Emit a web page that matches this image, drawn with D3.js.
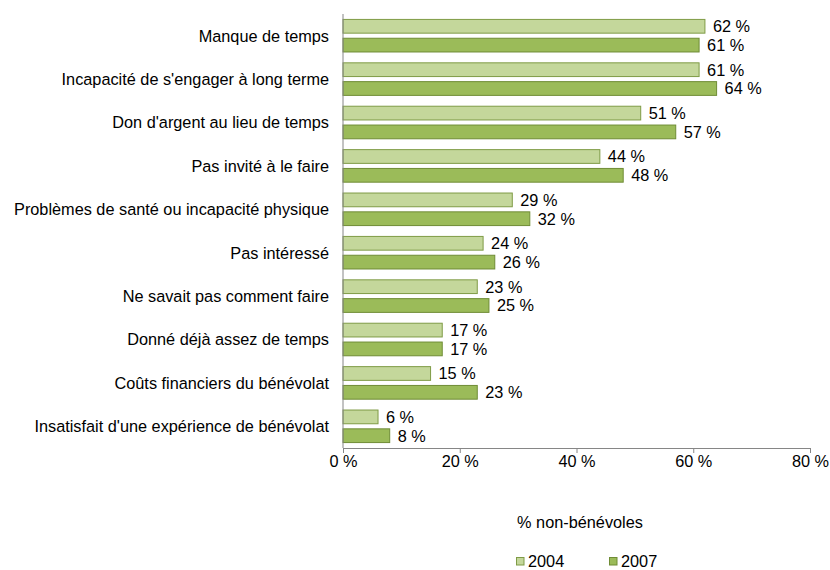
<!DOCTYPE html>
<html>
<head>
<meta charset="utf-8">
<script src="https://cdn.jsdelivr.net/npm/d3@7/dist/d3.min.js"></script>
<style>
  body { margin: 0; background: #fff; }
  svg { display: block; font-family: "Liberation Sans", Arial, sans-serif; }
</style>
</head>
<body>
<svg id="chart" width="830" height="570"></svg>
<script>
// Reasons given for not volunteering, share of non-volunteers
const categories = [
  "Manque de temps",
  "Incapacité de s'engager à long terme",
  "Don d'argent au lieu de temps",
  "Pas invité à le faire",
  "Problèmes de santé ou incapacité physique",
  "Pas intéressé",
  "Ne savait pas comment faire",
  "Donné déjà assez de temps",
  "Coûts financiers du bénévolat",
  "Insatisfait d'une expérience de bénévolat"
];
const series = ["2004", "2007"];
const values2004 = [62, 61, 51, 44, 29, 24, 23, 17, 15, 6];
const values2007 = [61, 64, 57, 48, 32, 26, 25, 17, 23, 8];
const xTicks = [0, 20, 40, 60, 80];
const xTitle = "% non-bénévoles";

const fills = { "2004": "#c4d79b", "2007": "#9bbb59" };
const strokes = { "2004": "#7f9b46", "2007": "#6f8c35" };
const fontSize = 16.3;

const svg = d3.select("#chart");
const plotLeft = 343, plotRight = 810, plotTop = 14, plotBottom = 448;

const x = d3.scaleLinear().domain([0, 80]).range([plotLeft, plotRight]);
const y = d3.scaleBand().domain(categories).range([plotTop, plotBottom]).paddingInner(0.25).paddingOuter(0.125);
const ySub = d3.scaleBand().domain(series).range([0, y.bandwidth()]).paddingInner(0.27);

const rows = categories.map((c, i) => ({ cat: c, vals: [
  { s: "2004", v: values2004[i] },
  { s: "2007", v: values2007[i] }
]}));

const g = svg.append("g");
const grp = g.selectAll("g.grp").data(rows).join("g")
  .attr("transform", d => `translate(0,${y(d.cat)})`);

grp.selectAll("rect").data(d => d.vals).join("rect")
  .attr("x", x(0))
  .attr("y", d => ySub(d.s))
  .attr("width", d => x(d.v) - x(0))
  .attr("height", ySub.bandwidth())
  .attr("fill", d => fills[d.s])
  .attr("stroke", d => strokes[d.s])
  .attr("stroke-width", 1);

grp.selectAll("text.val").data(d => d.vals).join("text")
  .attr("class", "val")
  .attr("x", d => x(d.v) + 8)
  .attr("y", d => ySub(d.s) + ySub.bandwidth() / 2)
  .attr("dy", "0.36em")
  .attr("font-size", fontSize)
  .attr("fill", "#000")
  .text(d => d.v + " %");

// Category labels
g.selectAll("text.cat").data(categories).join("text")
  .attr("class", "cat")
  .attr("x", 329)
  .attr("y", d => y(d) + y.bandwidth() / 2)
  .attr("dy", "0.36em")
  .attr("text-anchor", "end")
  .attr("font-size", fontSize)
  .text(d => d);

// Vertical axis line
svg.append("line")
  .attr("x1", plotLeft).attr("x2", plotLeft)
  .attr("y1", plotTop).attr("y2", plotBottom)
  .attr("stroke", "#868686");

// Horizontal axis
const xAxis = d3.axisBottom(x).tickValues(xTicks).tickFormat(d => d + " %").tickSize(5).tickSizeOuter(0);
const ax = svg.append("g").attr("transform", `translate(0,${plotBottom})`).call(xAxis);
ax.select(".domain").attr("stroke", "#868686");
ax.selectAll(".tick line").attr("stroke", "#868686");
ax.selectAll(".tick text").attr("font-size", fontSize).attr("fill", "#000")
  .attr("font-family", "Liberation Sans, Arial, sans-serif")
  .attr("y", 19).attr("dy", null);

svg.append("text")
  .attr("x", 580).attr("y", 528)
  .attr("text-anchor", "middle")
  .attr("font-size", fontSize)
  .text(xTitle);

// Legend
const legendX = { "2004": 516, "2007": 609 };
const lg = svg.selectAll("g.leg").data(series).join("g")
  .attr("transform", d => `translate(${legendX[d]},557)`);
lg.append("rect").attr("x", 0.5).attr("y", 0.5).attr("width", 7.5).attr("height", 7.5)
  .attr("fill", d => fills[d]).attr("stroke", d => strokes[d]);
lg.append("text").attr("x", 12).attr("y", 9.5)
  .attr("font-size", fontSize).text(d => d);
</script>
</body>
</html>
